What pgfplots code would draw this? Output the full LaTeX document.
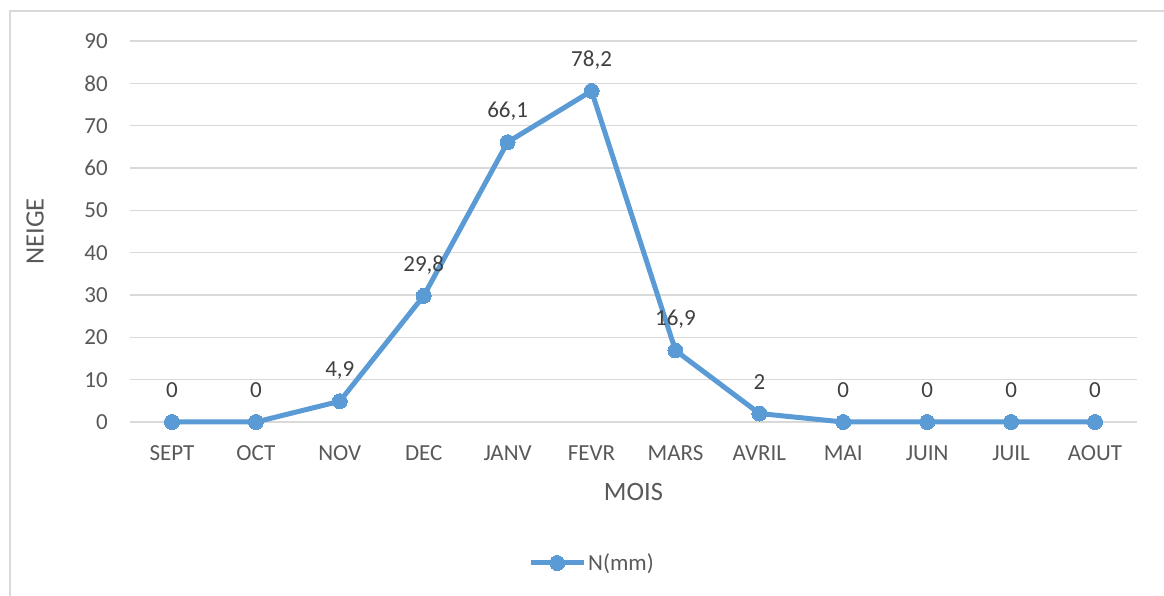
\documentclass[border=0pt]{standalone}
\usepackage{fontspec}
\setmainfont{Carlito}
\usepackage{pgfplots}
\pgfplotsset{compat=1.18}
\definecolor{lineblue}{HTML}{5B9BD5}
\definecolor{ticktext}{HTML}{595959}
\definecolor{labeltext}{HTML}{404040}
\definecolor{gridgray}{HTML}{D9D9D9}
\begin{document}
\begin{tikzpicture}[x=1pt,y=1pt]
\useasboundingbox (-130,-174) rectangle (1034,422);
\draw[gridgray, line width=1.5pt] (-120,-180) -- (-120,411) -- (1040,411);
\begin{axis}[
  at={(0pt,0pt)}, anchor=south west,
  scale only axis, width=1007pt, height=381pt,
  xmin=-0.5, xmax=11.5, ymin=0, ymax=90,
  xtick={0,...,11},
  xticklabels={SEPT,OCT,NOV,DEC,JANV,FEVR,MARS,AVRIL,MAI,JUIN,JUIL,AOUT},
  ytick={0,10,...,90},
  axis line style={draw=none},
  major tick length=0pt,
  tick style={draw=none},
  ymajorgrids,
  grid style={gridgray, line width=1.3pt},
  clip=false,
  /pgf/number format/assume math mode=true,
  ticklabel style={font=\fontsize{23}{27}\selectfont, text=ticktext, inner sep=0pt},
  yticklabel style={anchor=east, xshift=-22pt},
  xticklabel style={anchor=base, yshift=-38.5pt},
  xlabel={MOIS},
  xlabel style={at={(axis description cs:0.5,0)}, anchor=center, yshift=-70pt, font=\fontsize{26.5}{30}\selectfont, text=ticktext},
  ylabel={NEIGE},
  ylabel style={at={(axis description cs:-0.0943,0.5)}, anchor=center, font=\fontsize{26.5}{30}\selectfont, text=ticktext},
  legend style={at={(axis description cs:0.4588,-0.370)}, anchor=center, draw=none, fill=none, font=\fontsize{23}{27}\selectfont, text=ticktext, inner sep=0pt},
  legend image code/.code={\draw[mark repeat=2,mark phase=2] plot coordinates {(0pt,0pt)(26.5pt,0pt)(53pt,0pt)};},
  nodes near coords={\pgfmathprintnumber[use comma,fixed,precision=1]{\pgfplotspointmeta}},
  every node near coord/.append style={anchor=base, inner sep=0pt, yshift=24.5pt, font=\fontsize{23}{27}\selectfont, text=labeltext},
]
\addplot[lineblue, line width=5pt, mark=*, mark size=7.5pt, mark options={fill=lineblue, draw=lineblue, line width=0pt}]
coordinates {(0,0) (1,0) (2,4.9) (3,29.8) (4,66.1) (5,78.2) (6,16.9) (7,2) (8,0) (9,0) (10,0) (11,0)};
\addlegendentry{N(mm)}
\end{axis}
\end{tikzpicture}
\end{document}
